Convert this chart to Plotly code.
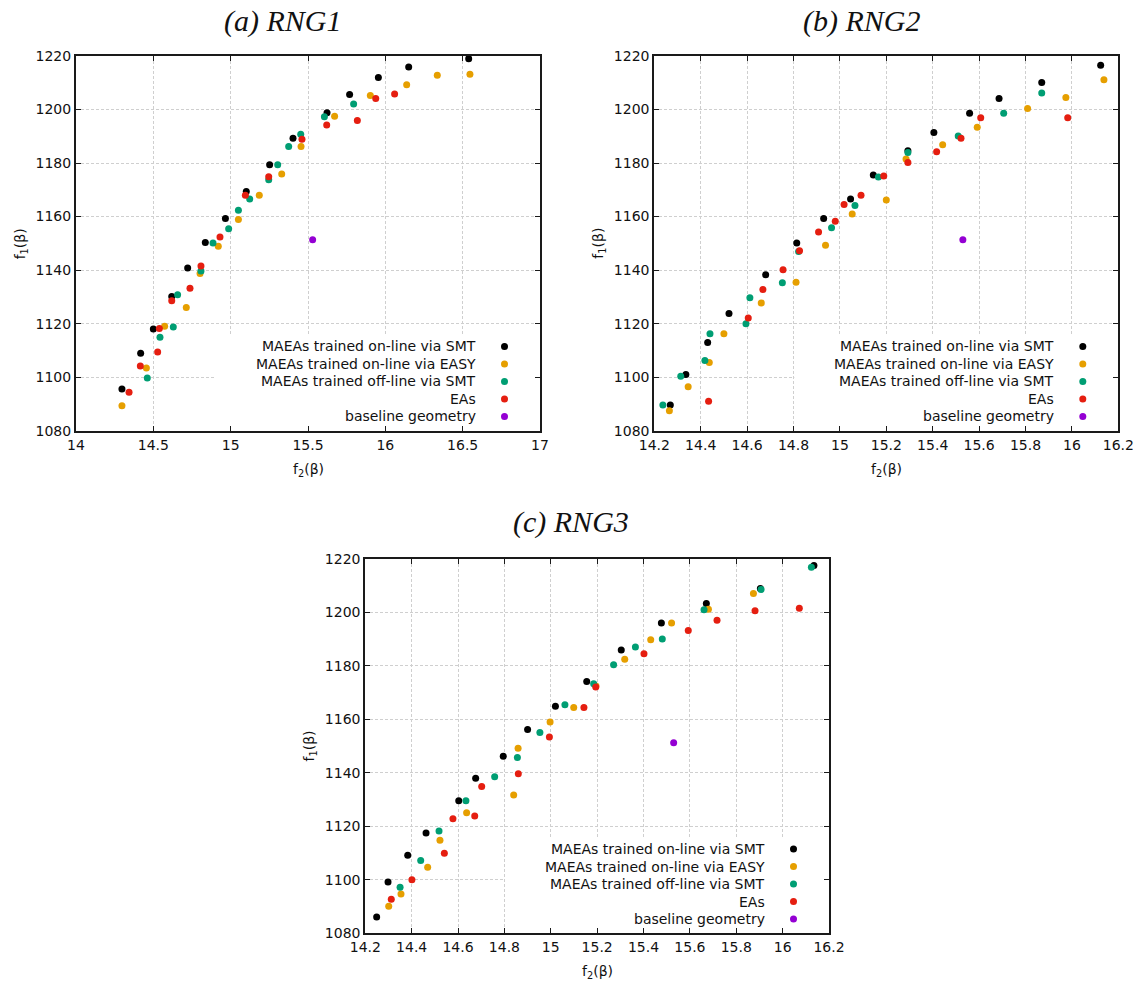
import plotly.graph_objects as go

W, H = 1145, 984

series_names = ["MAEAs trained on-line via SMT", "MAEAs trained on-line via EASY",
                "MAEAs trained off-line via SMT", "EAs", "baseline geometry"]
series_colors = ["#000000", "#E69F00", "#009E73", "#E51E10", "#9400D3"]
panel_titles = ["(a) RNG1", "(b) RNG2", "(c) RNG3"]

# Panel (a) RNG1
a_smt_on_x = [14.297, 14.418, 14.500, 14.619, 14.722, 14.836, 14.966, 15.101, 15.252, 15.403, 15.623, 15.769, 15.955, 16.151, 16.539]
a_smt_on_y = [1095.6, 1108.9, 1118.0, 1130.1, 1140.8, 1150.3, 1159.3, 1169.4, 1179.4, 1189.3, 1198.8, 1205.6, 1212.0, 1215.9, 1219.0]
a_easy_x = [14.297, 14.455, 14.573, 14.713, 14.802, 14.920, 15.050, 15.185, 15.330, 15.455, 15.672, 15.903, 16.138, 16.336, 16.547]
a_easy_y = [1089.3, 1103.4, 1119.0, 1126.0, 1138.7, 1148.9, 1158.9, 1168.0, 1175.9, 1186.2, 1197.5, 1205.2, 1209.3, 1212.8, 1213.2]
a_smt_off_x = [14.461, 14.543, 14.629, 14.657, 14.808, 14.886, 14.987, 15.050, 15.123, 15.246, 15.304, 15.375, 15.453, 15.606, 15.795]
a_smt_off_y = [1099.7, 1114.9, 1118.7, 1130.8, 1139.7, 1150.1, 1155.5, 1162.4, 1166.6, 1173.8, 1179.4, 1186.2, 1190.8, 1197.3, 1202.1]
a_ea_x = [14.343, 14.416, 14.528, 14.539, 14.619, 14.737, 14.808, 14.931, 15.095, 15.246, 15.461, 15.621, 15.819, 15.938, 16.060]
a_ea_y = [1094.4, 1104.2, 1109.4, 1118.2, 1128.6, 1133.2, 1141.5, 1152.4, 1168.0, 1174.9, 1188.9, 1194.2, 1195.9, 1204.1, 1205.8]

# Panel (b) RNG2
b_smt_on_x = [14.269, 14.336, 14.430, 14.522, 14.680, 14.814, 14.930, 15.046, 15.144, 15.293, 15.405, 15.559, 15.686, 15.870, 16.124]
b_smt_on_y = [1089.6, 1101.0, 1113.0, 1123.8, 1138.3, 1150.1, 1159.3, 1166.6, 1175.5, 1184.6, 1191.4, 1198.6, 1204.1, 1210.1, 1216.5]
b_easy_x = [14.265, 14.346, 14.437, 14.500, 14.661, 14.811, 14.938, 15.053, 15.200, 15.285, 15.443, 15.592, 15.809, 15.974, 16.138]
b_easy_y = [1087.5, 1096.4, 1105.5, 1116.2, 1127.7, 1135.5, 1149.3, 1161.0, 1166.2, 1181.5, 1186.8, 1193.4, 1200.4, 1204.5, 1211.1]
b_smt_off_x = [14.237, 14.314, 14.418, 14.440, 14.595, 14.612, 14.752, 14.822, 14.964, 15.065, 15.166, 15.293, 15.510, 15.706, 15.870]
b_smt_off_y = [1089.6, 1100.3, 1106.2, 1116.2, 1120.0, 1129.7, 1135.3, 1147.0, 1155.8, 1164.1, 1174.8, 1183.9, 1190.1, 1198.6, 1206.2]
b_ea_x = [14.434, 14.605, 14.668, 14.755, 14.826, 14.908, 14.980, 15.018, 15.091, 15.189, 15.293, 15.417, 15.522, 15.607, 15.982]
b_ea_y = [1091.0, 1122.1, 1132.8, 1140.1, 1147.2, 1154.2, 1158.3, 1164.5, 1168.0, 1175.2, 1180.2, 1184.2, 1189.3, 1196.9, 1196.9]

# Panel (c) RNG3
c_smt_on_x = [14.249, 14.298, 14.383, 14.462, 14.603, 14.676, 14.795, 14.900, 15.020, 15.155, 15.304, 15.477, 15.671, 15.904, 16.135]
c_smt_on_y = [1086.1, 1099.2, 1109.2, 1117.5, 1129.6, 1138.0, 1146.2, 1156.2, 1164.9, 1174.2, 1186.0, 1196.1, 1203.4, 1209.0, 1217.6]
c_easy_x = [14.301, 14.354, 14.469, 14.522, 14.637, 14.840, 14.859, 14.997, 15.099, 15.195, 15.319, 15.431, 15.521, 15.680, 15.874]
c_easy_y = [1090.1, 1094.7, 1104.7, 1114.8, 1125.1, 1131.7, 1149.2, 1159.0, 1164.5, 1172.5, 1182.5, 1189.8, 1196.1, 1201.2, 1207.1]
c_smt_off_x = [14.350, 14.439, 14.518, 14.634, 14.758, 14.856, 14.953, 15.061, 15.185, 15.271, 15.365, 15.481, 15.661, 15.907, 16.124]
c_smt_off_y = [1097.2, 1107.2, 1118.3, 1129.6, 1138.6, 1145.8, 1155.1, 1165.5, 1173.3, 1180.4, 1187.1, 1190.1, 1201.0, 1208.6, 1216.9]
c_ea_x = [14.312, 14.401, 14.541, 14.578, 14.672, 14.702, 14.860, 14.994, 15.143, 15.194, 15.402, 15.593, 15.717, 15.881, 16.072]
c_ea_y = [1092.7, 1100.0, 1109.9, 1122.8, 1123.9, 1134.9, 1139.7, 1153.4, 1164.5, 1172.1, 1184.6, 1193.25, 1197.1, 1200.6, 1201.6]

# Baseline geometry (same in all panels)
baseline_x = [15.53]
baseline_y = [1151.3]

# Axis ticks
a_xticks = [14, 14.5, 15, 15.5, 16, 16.5, 17]
bc_xticks = [14.2, 14.4, 14.6, 14.8, 15, 15.2, 15.4, 15.6, 15.8, 16, 16.2]
yticks = [1080, 1100, 1120, 1140, 1160, 1180, 1200, 1220]
yrange = [1080, 1220]

panels = [
    dict(series=[(a_smt_on_x, a_smt_on_y), (a_easy_x, a_easy_y), (a_smt_off_x, a_smt_off_y),
                 (a_ea_x, a_ea_y), (baseline_x, baseline_y)],
         xrange=[14, 17], xticks=a_xticks, px=(76, 540), py=(56, 430.7), title_cx=282, title_cy=21),
    dict(series=[(b_smt_on_x, b_smt_on_y), (b_easy_x, b_easy_y), (b_smt_off_x, b_smt_off_y),
                 (b_ea_x, b_ea_y), (baseline_x, baseline_y)],
         xrange=[14.2, 16.2], xticks=bc_xticks, px=(654.3, 1118.3), py=(56, 430.7), title_cx=861, title_cy=21),
    dict(series=[(c_smt_on_x, c_smt_on_y), (c_easy_x, c_easy_y), (c_smt_off_x, c_smt_off_y),
                 (c_ea_x, c_ea_y), (baseline_x, baseline_y)],
         xrange=[14.2, 16.2], xticks=bc_xticks, px=(365.3, 829), py=(559, 933.3), title_cx=571, title_cy=522),
]

fig = go.Figure()
tick_font = dict(family="DejaVu Sans", size=14, color="#111111")
annotations = []
shapes = []

for i, p in enumerate(panels):
    k = "" if i == 0 else str(i + 1)
    xa, ya = "x" + k, "y" + k
    for (xs, ys), name, col in zip(p["series"], series_names, series_colors):
        fig.add_trace(go.Scatter(x=xs, y=ys, mode="markers", name=name, showlegend=False,
                                 marker=dict(color=col, size=7, line=dict(width=0)),
                                 xaxis=xa, yaxis=ya, hoverinfo="x+y"))
    x0, x1 = p["px"]
    y0, y1 = p["py"]
    common = dict(showline=True, linecolor="#1a1a1a", linewidth=2, mirror="ticks",
                  ticks="inside", ticklen=5, tickwidth=1, tickcolor="#1a1a1a",
                  showgrid=True, gridcolor="#cfcfcf", gridwidth=1, griddash="3px,2px",
                  zeroline=False, tickfont=tick_font, automargin=False)
    fig.layout["xaxis" + k] = dict(domain=[x0 / W, x1 / W], range=p["xrange"], anchor=ya,
                                   tickmode="array", tickvals=p["xticks"],
                                   ticktext=[("%g" % v) for v in p["xticks"]], **common)
    fig.layout["yaxis" + k] = dict(domain=[1 - y1 / H, 1 - y0 / H], range=yrange, anchor=xa,
                                   tickmode="array", tickvals=yticks, **common)
    # Title
    annotations.append(dict(text=panel_titles[i], x=p["title_cx"] / W, y=1 - p["title_cy"] / H,
                            xref="paper", yref="paper", showarrow=False, xanchor="center", yanchor="middle",
                            font=dict(family="Liberation Serif", size=30, style="italic", color="#111111")))
    # Axis labels
    annotations.append(dict(text="f<sub>2</sub>(β)", x=(x0 + x1) / 2 / W, y=1 - (y1 + 39) / H,
                            xref="paper", yref="paper", showarrow=False, xanchor="center", yanchor="middle",
                            font=dict(family="DejaVu Sans", size=14, color="#111111")))
    annotations.append(dict(text="f<sub>1</sub>(β)", x=(x0 - 55) / W, y=1 - ((y0 + y1) / 2) / H,
                            xref="paper", yref="paper", showarrow=False, xanchor="center", yanchor="middle",
                            textangle=-90, font=dict(family="DejaVu Sans", size=14, color="#111111")))
    # Legend (gnuplot style key: opaque box, right-aligned text, point on right)
    xr = p["xrange"]
    xspan = (xr[1] - xr[0]) / (x1 - x0)
    yspan = (yrange[1] - yrange[0]) / (y1 - y0)
    shapes.append(dict(type="rect", xref=xa, yref=ya,
                       x0=xr[1] - 324 * xspan, x1=xr[1] - 1.5 * xspan,
                       y0=yrange[0] + 1.5 * yspan, y1=yrange[0] + 95 * yspan,
                       fillcolor="white", line=dict(width=0), layer="between"))
    offsets = [84.3, 66.8, 49.3, 31.8, 14.3]
    for name, col, off in zip(series_names, series_colors, offsets):
        yy = 1 - (y1 - off) / H
        annotations.append(dict(text=name, x=(x1 - 62) / W, y=yy, xref="paper", yref="paper",
                                showarrow=False, xanchor="right", yanchor="middle",
                                font=dict(family="DejaVu Sans", size=14, color="#111111")))
        cx = (x1 - 35.5) / W
        shapes.append(dict(type="circle", xref="paper", yref="paper",
                           x0=cx - 3.5 / W, x1=cx + 3.5 / W, y0=yy - 3.5 / H, y1=yy + 3.5 / H,
                           fillcolor=col, line=dict(width=0), layer="above"))

fig.update_layout(width=W, height=H, margin=dict(l=0, r=0, t=0, b=0, autoexpand=False),
                  paper_bgcolor="white", plot_bgcolor="white",
                  annotations=annotations, shapes=shapes, showlegend=False)

fig.write_html("out.html", config={"displayModeBar": False},
               post_script="document.body.style.margin='0px';")
